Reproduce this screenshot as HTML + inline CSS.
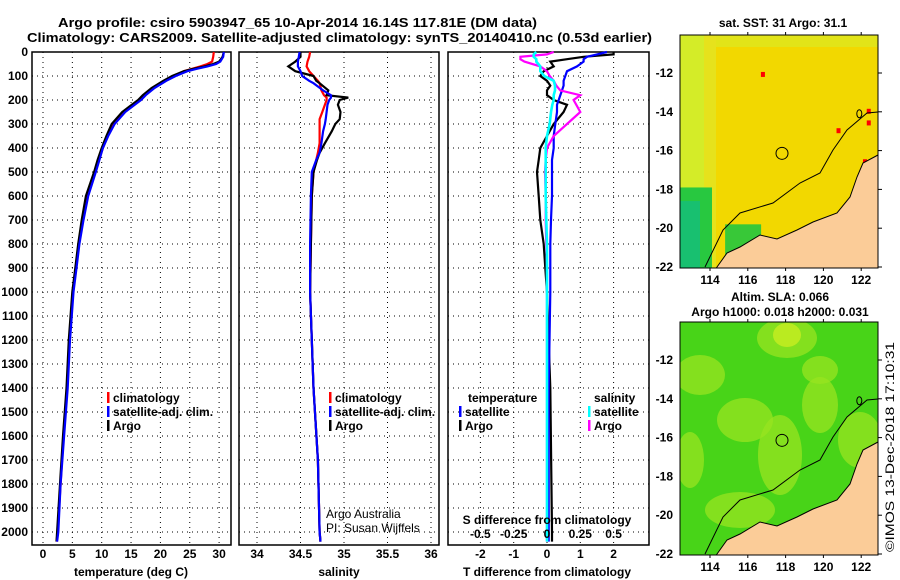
<!DOCTYPE html>
<html><head><meta charset="utf-8">
<style>
html,body{margin:0;padding:0;background:#fff;}
svg{display:block;font-family:"Liberation Sans",sans-serif;}
.b{font-weight:bold;font-size:13px;}
.t{font-weight:bold;font-size:12px;}
</style></head>
<body>
<svg id="chart" width="900" height="580" viewBox="0 0 900 580" xmlns="http://www.w3.org/2000/svg">
<rect x="0" y="0" width="900" height="580" fill="#fff"/>
<text x="58" y="27" class="b" textLength="479" lengthAdjust="spacingAndGlyphs">Argo profile: csiro 5903947_65 10-Apr-2014 16.14S 117.81E (DM data)</text>
<text x="27" y="42" class="b" textLength="625" lengthAdjust="spacingAndGlyphs">Climatology: CARS2009. Satellite-adjusted climatology: synTS_20140410.nc (0.53d earlier)</text>
<g id="panels"></g>
<g id="maps"></g>
<text transform="translate(894,552) rotate(-90)" font-size="12" textLength="210" lengthAdjust="spacingAndGlyphs">©IMOS 13-Dec-2018 17:10:31</text>
</svg>
<script>
// ---- data ----
const depthT=[0,20,40,50,60,70,80,100,120,150,180,200,250,300,350,400,450,500,600,700,800,900,1000,1200,1400,1600,1800,2000,2040];
const argoT=[30.8,30.6,30,29,27.5,25.6,24,22,20.5,18.5,17,16.2,13.5,11.7,10.8,10,9.3,8.7,7.3,6.6,6.0,5.5,5.0,4.4,4.0,3.4,2.9,2.4,2.3];
const climT=[29.1,29.0,28.8,28,26.8,25.4,24,22.3,20.8,18.8,17.3,16.5,13.8,12.0,11,10.2,9.5,8.9,7.5,6.7,6.1,5.6,5.1,4.5,4.1,3.5,3.0,2.5,2.3];
const satT=[30.8,30.7,30.2,29.5,28,26.2,24.6,22.6,21.0,19.0,17.5,16.7,14.0,12.2,11.1,10.2,9.6,9.0,7.7,6.9,6.2,5.7,5.2,4.6,4.2,3.6,3.0,2.6,2.4];
const depthS=[0,20,40,60,80,100,120,130,160,180,190,200,220,250,280,300,330,380,420,450,500,600,800,1000,1400,1700,2000,2040];
const argoS=[34.5,34.5,34.44,34.36,34.44,34.65,34.68,34.72,34.82,34.80,35.05,34.95,34.93,34.96,34.95,34.9,34.86,34.78,34.72,34.69,34.65,34.63,34.62,34.61,34.65,34.7,34.72,34.73];
const climS=[34.61,34.6,34.58,34.57,34.6,34.65,34.7,34.72,34.74,34.77,34.8,34.8,34.78,34.75,34.72,34.72,34.72,34.72,34.7,34.68,34.65,34.63,34.62,34.61,34.65,34.7,34.72,34.73];
const satS=[34.49,34.48,34.47,34.47,34.5,34.52,34.6,34.65,34.76,34.85,34.85,34.83,34.81,34.8,34.79,34.78,34.76,34.74,34.72,34.68,34.63,34.62,34.61,34.61,34.65,34.7,34.72,34.73];
const depthD=[0,10,20,30,40,60,80,100,120,140,160,180,200,220,250,300,350,400,450,500,600,700,800,900,1000,1400,2000,2040];
const argoDT=[2.0,2.0,1.1,0.6,0.1,0.2,-0.1,-0.2,0.0,0.1,0.0,0.0,0.2,0.6,0.5,0.2,0.0,-0.2,-0.25,-0.3,-0.25,-0.2,-0.1,-0.05,0,0.1,0.15,0.15];
const satDT=[1.8,1.5,1.2,1.1,1.1,0.9,0.6,0.55,0.5,0.5,0.45,0.4,0.35,0.3,0.3,0.25,0.2,0.2,0.15,0.15,0.15,0.12,0.1,0.1,0.1,0.05,0.05,0.05];
const argoDS=[0.05,0.0,-0.2,-0.2,-0.17,-0.05,0.0,0.02,0.05,0.07,0.1,0.25,0.2,0.22,0.25,0.15,0.05,0.0,-0.01,-0.015,-0.01,-0.01,-0.005,0,0,0,0,0];
const satDS=[-0.08,-0.1,-0.1,-0.08,-0.08,-0.05,-0.05,-0.02,0.05,0.06,0.06,0.05,0.05,0.04,0.03,0.02,0.0,-0.01,-0.01,-0.01,-0.01,-0.005,0,0,0,0,0,0];
const depthTicks=[0,100,200,300,400,500,600,700,800,900,1000,1100,1200,1300,1400,1500,1600,1700,1800,1900,2000];
const tempTicks=[0,5,10,15,20,25,30];
const salTicks=[34,34.5,35,35.5,36];
const tdTicks=[-2,-1,0,1,2];
const sdTicks=[-0.5,-0.25,0,0.25,0.5];
const sdTickLabels=["-0.5","-0.25","0","0.25","0.5"];
const lonTicks=[114,116,118,120,122];
const latTicks=[-12,-14,-16,-18,-20,-22];

const NS="http://www.w3.org/2000/svg";
function mk(tag,attrs,parent,txt){const e=document.createElementNS(NS,tag);for(const k in attrs)e.setAttribute(k,attrs[k]);if(txt!==undefined)e.textContent=txt;parent.appendChild(e);return e;}
const P=document.getElementById('panels');
const Y0=52, YS=0.24;
const yD=d=>Y0+d*YS;
const PB=545;
const xT=v=>43+v*5.87;
const xS=v=>257+(v-34)*87;
const xTD=v=>547+v*33.3;
const xSD=v=>547+v*133.2;

function panel(name){
  const g=mk('g',{},P);
  
  
  return g;
}
function frame(g,l,r,xticks,xf){
  depthTicks.forEach(d=>{mk('line',{x1:l,x2:r,y1:yD(d),y2:yD(d),stroke:'#000','stroke-width':1,'stroke-dasharray':'1,4'},g);});
  xticks.forEach(v=>{mk('line',{x1:xf(v),x2:xf(v),y1:Y0,y2:PB,stroke:'#000','stroke-width':1,'stroke-dasharray':'1,4'},g);});
  const f=mk('rect',{x:l,y:Y0,width:r-l,height:PB-Y0,fill:'none',stroke:'#000','stroke-width':1.5},g);
  
  
}
function line(g,xs,ds,xf,col,name,w){
  const pts=xs.map((v,i)=>xf(v).toFixed(1)+','+yD(ds[i]).toFixed(1)).join(' ');
  const p=mk('polyline',{points:pts,fill:'none',stroke:col,'stroke-width':w||2.2},g);
  
  
}
function txt(g,x,y,s,name,opts){
  const t=mk('text',Object.assign({x:x,y:y,class:'t'},opts||{}),g,s);
  
  
  return t;
}
function legendItem(g,x,y,col,label,name){
  mk('rect',{x:x,y:y-10,width:2.5,height:11,fill:col},g);
  txt(g,x+6,y,label,name);
}

// Panel 1: temperature
const g1=panel('temperature-panel');
frame(g1,32,231,tempTicks,xT);
depthTicks.forEach(d=>txt(g1,28,yD(d)+4,String(d),'depth-tick-label',{'text-anchor':'end'}));
tempTicks.forEach(v=>txt(g1,xT(v),558,String(v),'temp-tick-label',{'text-anchor':'middle'}));
txt(g1,131,576,'temperature (deg C)','x-axis-title-temperature',{'text-anchor':'middle','font-size':'13'});
line(g1,climT,depthT,xT,'#f00','climatology-temp-line');
line(g1,argoT,depthT,xT,'#000','argo-temp-line');
line(g1,satT,depthT,xT,'#00f','satellite-temp-line');
legendItem(g1,107,402,'#f00','climatology','legend-climatology');
legendItem(g1,107,416,'#00f','satellite-adj. clim.','legend-satellite');
legendItem(g1,107,430,'#000','Argo','legend-argo');

// Panel 2: salinity
const g2=panel('salinity-panel');
frame(g2,239,439,salTicks,xS);
salTicks.forEach((v,i)=>txt(g2,xS(v),558,["34","34.5","35","35.5","36"][i],'sal-tick-label',{'text-anchor':'middle'}));
txt(g2,339,576,'salinity','x-axis-title-salinity',{'text-anchor':'middle','font-size':'13'});
line(g2,climS,depthS,xS,'#f00','climatology-sal-line');
line(g2,argoS,depthS,xS,'#000','argo-sal-line');
line(g2,satS,depthS,xS,'#00f','satellite-sal-line');
legendItem(g2,329,402,'#f00','climatology','legend-climatology-2');
legendItem(g2,329,416,'#00f','satellite-adj. clim.','legend-satellite-2');
legendItem(g2,329,430,'#000','Argo','legend-argo-2');
txt(g2,326,518,'Argo Australia','credit-argo-australia',{'font-weight':'normal',class:'','font-size':'12'});
txt(g2,326,532,'PI: Susan Wijffels','credit-pi',{'font-weight':'normal',class:'','font-size':'12'});

// Panel 3: differences
const g3=panel('difference-panel');
frame(g3,448,649,tdTicks,xTD);
tdTicks.forEach(v=>txt(g3,xTD(v),558,String(v),'tdiff-tick-label',{'text-anchor':'middle'}));
txt(g3,547,576,'T difference from climatology','x-axis-title-tdiff',{'text-anchor':'middle','font-size':'13'});
line(g3,argoDT,depthD,xTD,'#000','argo-tdiff-line');
line(g3,satDT,depthD,xTD,'#00f','satellite-tdiff-line');
line(g3,argoDS,depthD,xSD,'#f0f','argo-sdiff-line');
line(g3,satDS,depthD,xSD,'#0ff','satellite-sdiff-line',2.6);
txt(g3,468,402,'temperature','legend-temperature-heading');
txt(g3,594,402,'salinity','legend-salinity-heading');
legendItem(g3,459,416,'#00f','satellite','legend-t-satellite');
legendItem(g3,459,430,'#000','Argo','legend-t-argo');
legendItem(g3,588,416,'#0ff','satellite','legend-s-satellite');
legendItem(g3,588,430,'#f0f','Argo','legend-s-argo');
txt(g3,547,524,'S difference from climatology','sdiff-axis-title',{'text-anchor':'middle','font-size':'13'});
sdTicks.forEach((v,i)=>txt(g3,xSD(v),538,sdTickLabels[i],'sdiff-tick-label',{'text-anchor':'middle'}));

// ---- maps ----
const M=document.getElementById('maps');
const mx=lon=>710+(lon-114)*18.9;
function mapBox(top,name,kind){
  const g=mk('g',{},M);
  
  
  const my=lat=>top+38+(-12-lat)*19.4;
  const L=680,R=878,T=top,B=top+233;
  const cid='clip'+top;
  const cp=mk('clipPath',{id:cid},g);mk('rect',{x:L,y:T,width:R-L,height:B-T},cp);
  const c=mk('g',{'clip-path':'url(#'+cid+')'},g);
  if(kind==='sst'){
    mk('rect',{x:L,y:T,width:R-L,height:B-T,fill:'#f2d800'},c);
    mk('rect',{x:L,y:T,width:R-L,height:12,fill:'#e2e418'},c);
    mk('rect',{x:L,y:T,width:24,height:B-T,fill:'#d4ec28'},c);
    mk('rect',{x:L+24,y:T,width:12,height:B-T,fill:'#e6e21c'},c);
    mk('rect',{x:L,y:my(-17.9),width:32,height:B-my(-17.9),fill:'#28c840'},c);
    mk('rect',{x:L,y:my(-18.6),width:20,height:B-my(-18.6),fill:'#18c070'},c);
    mk('rect',{x:mx(114.8),y:my(-19.8),width:36,height:50,fill:'#38c838'},c);
    [[116.8,-12.1],[122.4,-14],[122.4,-14.6],[123,-14.8],[120.8,-15],[122.2,-16.6]].forEach(p=>mk('rect',{x:mx(p[0])-2,y:my(p[1])-3,width:4,height:5,fill:'#f00'},c));
  } else {
    mk('rect',{x:L,y:T,width:R-L,height:B-T,fill:'#48d418'},c);
    [[787,338,30,20],[700,375,25,20],[780,455,22,40],[745,420,28,22],[820,405,18,28],[860,440,22,28],[740,510,35,18],[690,460,14,28],[820,370,18,14]].forEach(e=>mk('ellipse',{cx:e[0],cy:e[1],rx:e[2],ry:e[3],fill:'#98e420',opacity:0.75},c));
    mk('ellipse',{cx:787,cy:335,rx:14,ry:12,fill:'#c8ee20',opacity:0.8},c);
  }
  const land=[[717,267],[727,253],[740,247],[760,235],[777,239],[797,230],[813,222],[837,213],[850,197],[857,177],[863,163],[878,155]];
  const off=top-35;
  const lp=land.map(p=>p[0]+','+(p[1]+off)).join(' ')+' 878,'+(B+2)+' 715,'+(B+2);
  const lnd=mk('polygon',{points:lp,fill:'#fbcc98',stroke:'#000','stroke-width':1},c);
  
  
  const shelf=[[705,267],[723,230],[740,213],[773,203],[800,183],[820,173],[833,150],[847,130],[867,113],[878,112]];
  mk('polyline',{points:shelf.map(p=>p[0]+','+(p[1]+off)).join(' '),fill:'none',stroke:'#000','stroke-width':1},c);
  mk('ellipse',{cx:mx(121.9),cy:my(-14.1),rx:2.5,ry:4,fill:'none',stroke:'#000','stroke-width':1},c);
  const fl=mk('circle',{cx:mx(117.81),cy:my(-16.14),r:6,fill:'none',stroke:'#000','stroke-width':1},c);
  
  
  mk('rect',{x:L,y:T,width:R-L,height:B-T,fill:'none',stroke:'#000','stroke-width':1},g);
  latTicks.forEach(v=>{const y=my(v);if(y<T||y>B+2)return;mk('line',{x1:R,x2:R+4,y1:y,y2:y,stroke:'#000'},g);txt(g,673,y+4,String(v),'lat-tick-label',{'text-anchor':'end','font-size':'12'});});
  lonTicks.forEach(v=>{mk('line',{x1:mx(v),x2:mx(v),y1:B,y2:B+3,stroke:'#000'},g);mk('line',{x1:mx(v),x2:mx(v),y1:T,y2:T-3,stroke:'#000'},g);txt(g,mx(v),B+16,String(v),'lon-tick-label',{'text-anchor':'middle','font-size':'12'});});
}
mapBox(35,'sst-map','sst');
mapBox(322,'sla-map','sla');
txt(M,783,27,'sat. SST: 31 Argo: 31.1','sst-map-title',{'text-anchor':'middle','font-size':'12'});
txt(M,780,301,'Altim. SLA: 0.066','sla-map-title',{'text-anchor':'middle','font-size':'12'});
txt(M,780,316,'Argo h1000: 0.018 h2000: 0.031','sla-map-subtitle',{'text-anchor':'middle','font-size':'12'});
</script>
</body></html>
